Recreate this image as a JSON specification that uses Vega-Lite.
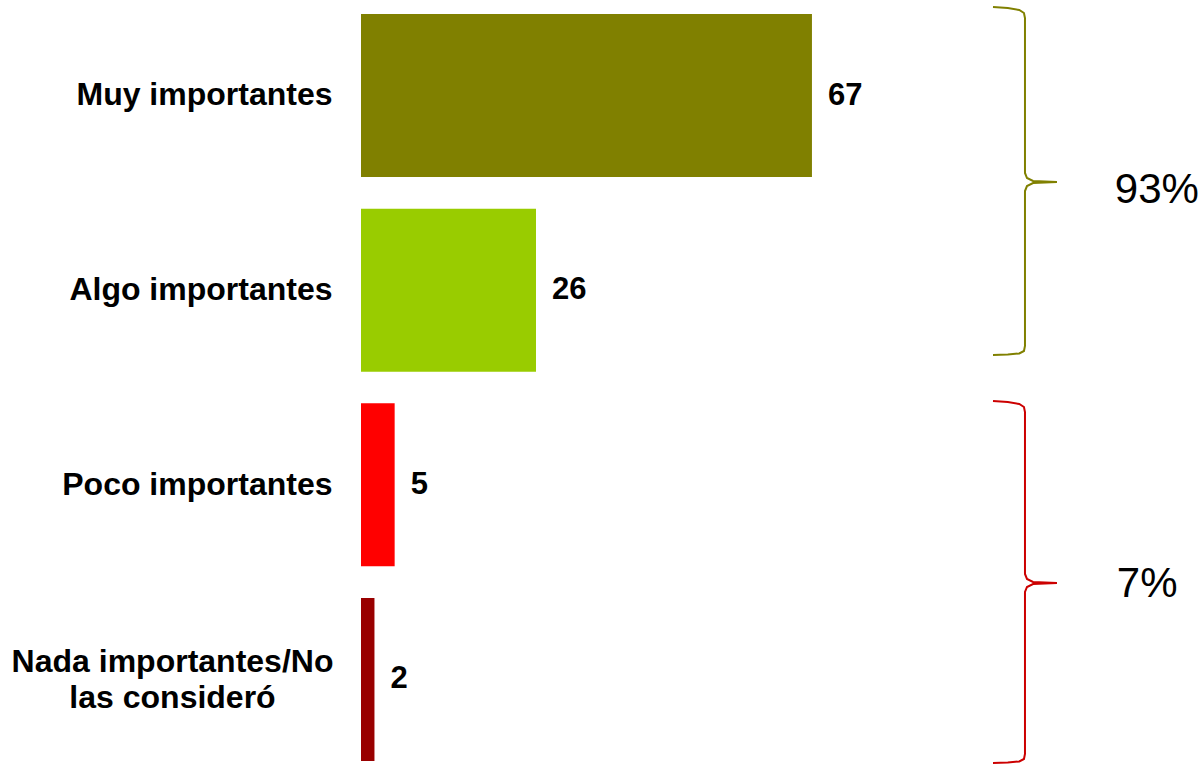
{
  "$schema": "https://vega.github.io/schema/vega-lite/v6.json",
  "width": 842,
  "height": 747,
  "autosize": {"type": "none"},
  "padding": {"left": 361, "top": 14, "right": 0, "bottom": 4},
  "background": "white",
  "config": {"view": {"stroke": null}},
  "datasets": {
    "bars": [
      {"cat": "Muy importantes", "value": 67},
      {"cat": "Algo importantes", "value": 26},
      {"cat": "Poco importantes", "value": 5},
      {"cat": "Nada importantes/No las consideró", "value": 2}
    ],
    "braces": [
      {"group": "pos", "ord": 1, "x": 93.9, "y": -0.4546},
      {"group": "pos", "ord": 2, "x": 96.1, "y": -0.4495},
      {"group": "pos", "ord": 3, "x": 97.8, "y": -0.4392},
      {"group": "pos", "ord": 4, "x": 98.5, "y": -0.4238},
      {"group": "pos", "ord": 5, "x": 98.65, "y": -0.398},
      {"group": "pos", "ord": 6, "x": 98.65, "y": 0.398},
      {"group": "pos", "ord": 7, "x": 98.95, "y": 0.4238},
      {"group": "pos", "ord": 8, "x": 99.85, "y": 0.4392},
      {"group": "pos", "ord": 9, "x": 103.4, "y": 0.4443},
      {"group": "pos", "ord": 10, "x": 99.85, "y": 0.4495},
      {"group": "pos", "ord": 11, "x": 98.95, "y": 0.4649},
      {"group": "pos", "ord": 12, "x": 98.65, "y": 0.4906},
      {"group": "pos", "ord": 13, "x": 98.65, "y": 1.2868},
      {"group": "pos", "ord": 14, "x": 98.5, "y": 1.3125},
      {"group": "pos", "ord": 15, "x": 97.8, "y": 1.3253},
      {"group": "pos", "ord": 16, "x": 96.1, "y": 1.3305},
      {"group": "pos", "ord": 17, "x": 93.9, "y": 1.333},
      {"group": "neg", "ord": 1, "x": 93.9, "y": 1.5693},
      {"group": "neg", "ord": 2, "x": 96.1, "y": 1.5745},
      {"group": "neg", "ord": 3, "x": 97.8, "y": 1.5847},
      {"group": "neg", "ord": 4, "x": 98.5, "y": 1.6002},
      {"group": "neg", "ord": 5, "x": 98.65, "y": 1.6259},
      {"group": "neg", "ord": 6, "x": 98.65, "y": 2.458},
      {"group": "neg", "ord": 7, "x": 98.95, "y": 2.4837},
      {"group": "neg", "ord": 8, "x": 99.85, "y": 2.4991},
      {"group": "neg", "ord": 9, "x": 103.4, "y": 2.5042},
      {"group": "neg", "ord": 10, "x": 99.85, "y": 2.5094},
      {"group": "neg", "ord": 11, "x": 98.95, "y": 2.5248},
      {"group": "neg", "ord": 12, "x": 98.65, "y": 2.5505},
      {"group": "neg", "ord": 13, "x": 98.65, "y": 3.3827},
      {"group": "neg", "ord": 14, "x": 98.5, "y": 3.4084},
      {"group": "neg", "ord": 15, "x": 97.8, "y": 3.4212},
      {"group": "neg", "ord": 16, "x": 96.1, "y": 3.4264},
      {"group": "neg", "ord": 17, "x": 93.9, "y": 3.4289}
    ],
    "pcts": [
      {"group": "pos", "label": "93%", "x": 112.0, "y": 0.4854},
      {"group": "neg", "label": "7%", "x": 112.3, "y": 2.509}
    ]
  },
  "layer": [
    {
      "data": {"name": "bars"},
      "mark": {"type": "bar"},
      "encoding": {
        "y": {
          "field": "cat",
          "type": "nominal",
          "sort": null,
          "scale": {"paddingInner": 0.1627, "paddingOuter": 0},
          "axis": {
            "title": null,
            "domain": false,
            "ticks": false,
            "labelFont": "Liberation Sans",
            "labelFontWeight": "bold",
            "labelFontSize": 32,
            "labelColor": "black",
            "labelLimit": 0,
            "labelLineHeight": 36,
            "labelBaseline": "middle",
            "labelAlign": {"condition": {"test": "indexof(datum.value, 'Nada') == 0", "value": "center"}, "value": "right"},
            "labelPadding": {"condition": {"test": "indexof(datum.value, 'Nada') == 0", "value": 189}, "value": 29},
            "labelOffset": {"condition": {"test": "indexof(datum.value, 'Nada') == 0", "value": -18}, "value": 0},
            "labelExpr": "indexof(datum.label, 'Nada') == 0 ? ['Nada importantes/No', 'las consideró'] : datum.label"
          }
        },
        "x": {
          "field": "value",
          "type": "quantitative",
          "scale": {"domain": [0, 125.1], "nice": false, "zero": true},
          "axis": null
        },
        "color": {
          "field": "cat",
          "type": "nominal",
          "scale": {
            "domain": ["Muy importantes", "Algo importantes", "Poco importantes", "Nada importantes/No las consideró"],
            "range": ["#808000", "#99CC00", "#FF0000", "#990000"]
          },
          "legend": null
        }
      }
    },
    {
      "data": {"name": "bars"},
      "mark": {"type": "text", "align": "left", "baseline": "middle", "dx": 16, "font": "Liberation Sans", "fontWeight": "bold", "fontSize": 31, "color": "black"},
      "encoding": {
        "y": {"field": "cat", "type": "nominal", "sort": null, "scale": {"type": "point", "padding": 0.4187}, "axis": null},
        "x": {"field": "value", "type": "quantitative"},
        "text": {"field": "value", "type": "quantitative"}
      }
    },
    {
      "data": {"name": "braces"},
      "mark": {"type": "line", "strokeWidth": 2, "interpolate": "linear"},
      "encoding": {
        "x": {"field": "x", "type": "quantitative"},
        "y": {"field": "y", "type": "quantitative", "scale": {"domain": [-0.4187, 3.4187], "reverse": true, "nice": false, "zero": false}, "axis": null},
        "detail": {"field": "group"},
        "order": {"field": "ord"},
        "stroke": {
          "field": "group",
          "type": "nominal",
          "scale": {"domain": ["pos", "neg"], "range": ["#808000", "#CC0000"]},
          "legend": null
        }
      }
    },
    {
      "data": {"name": "pcts"},
      "mark": {"type": "text", "align": "left", "baseline": "middle", "font": "Liberation Sans", "fontSize": 42, "color": "black"},
      "encoding": {
        "x": {"field": "x", "type": "quantitative"},
        "y": {"field": "y", "type": "quantitative", "scale": {"domain": [-0.4187, 3.4187], "reverse": true, "nice": false, "zero": false}, "axis": null},
        "text": {"field": "label"}
      }
    }
  ],
  "resolve": {"scale": {"y": "independent", "color": "independent"}}
}
